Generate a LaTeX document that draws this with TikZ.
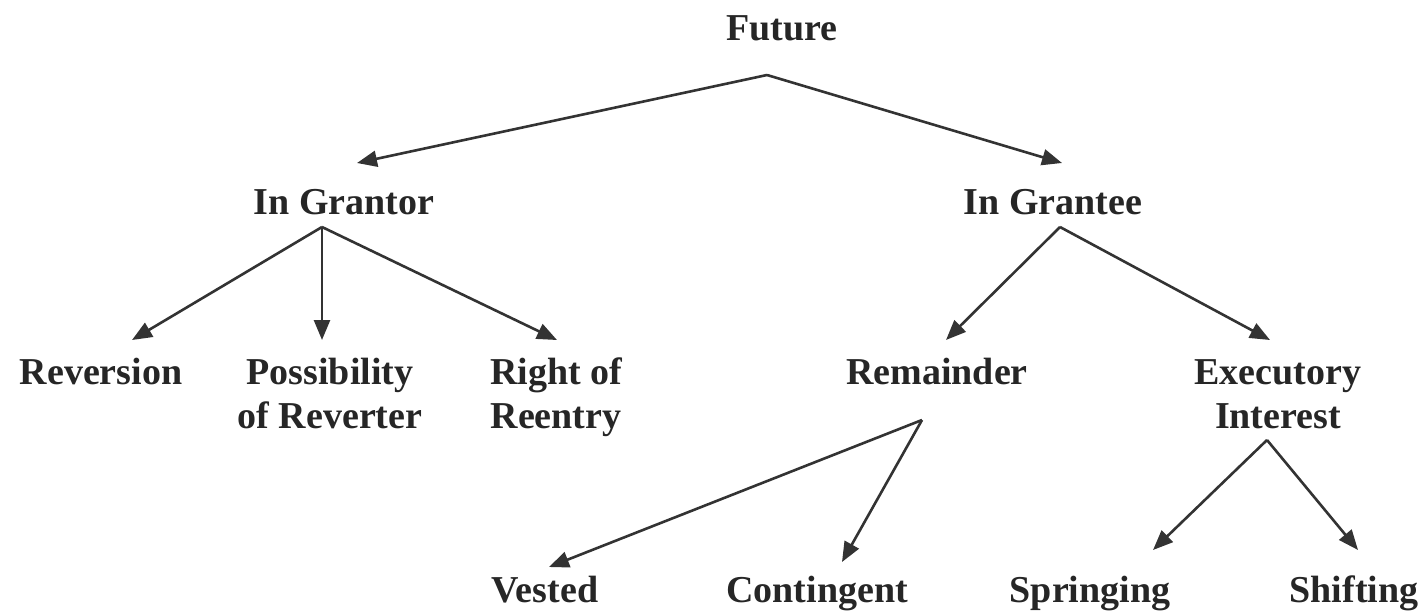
\documentclass[tikz,border=0pt]{standalone}
\usepackage{fontspec}
\setmainfont{Liberation Serif}
\usetikzlibrary{arrows.meta,calc}
\begin{document}
\begin{tikzpicture}[x=1pt,y=-1pt,
  lbl/.style={anchor=base,inner sep=0pt,font=\fontsize{38}{44}\selectfont\bfseries,text=black!85},
  arr/.style={line width=2.6pt,draw=black!80,-{Triangle[length=20pt,width=16pt]}}]
\useasboundingbox (0,0) rectangle (1424,611);
\node[lbl] (fut) at (782,40) {Future};
\node[lbl] (gr) at (344,214) {In Grantor};
\node[lbl] (ge) at (1053,214) {In Grantee};
\node[lbl] (rev) at (101,384) {Reversion};
\node[lbl] (pos) at (330,384) {\begin{tabular}[t]{@{}c@{}}Possibility\\of Reverter\end{tabular}};
\node[lbl] (roe) at (556,384) {\begin{tabular}[t]{@{}c@{}}Right of\\Reentry\end{tabular}};
\node[lbl] (rem) at (937,384) {Remainder};
\node[lbl] (exe) at (1278,384) {\begin{tabular}[t]{@{}c@{}}Executory\\Interest\end{tabular}};
\node[lbl] (ves) at (545,602) {Vested};
\node[lbl] (con) at (817,602) {Contingent};
\node[lbl] (spr) at (1090,602) {Springing};
\node[lbl] (shi) at (1354,602) {Shifting};
\draw[arr] ($(fut.base)+(-15,35)$) -- ($(gr.base)+(13,-51)$);
\draw[arr] ($(fut.base)+(-15,35)$) -- ($(ge.base)+(9,-51)$);
\draw[arr] ($(gr.base)+(-22,13)$) -- ($(rev.base)+(31,-44)$);
\draw[arr] ($(gr.base)+(-22,13)$) -- ($(pos.base)+(-8,-44)$);
\draw[arr] ($(gr.base)+(-22,13)$) -- ($(roe.base)+(1,-44)$);
\draw[arr] ($(ge.base)+(7,13)$) -- ($(rem.base)+(9,-44)$);
\draw[arr] ($(ge.base)+(7,13)$) -- ($(exe.base)+(-8,-44)$);
\draw[arr] ($(rem.base)+(-15,36)$) -- ($(ves.base)+(4,-35)$);
\draw[arr] ($(rem.base)+(-15,36)$) -- ($(con.base)+(25,-40)$);
\draw[arr] ($(exe.base)+(-11,56)$) -- ($(spr.base)+(63,-52)$);
\draw[arr] ($(exe.base)+(-11,56)$) -- ($(shi.base)+(4,-52)$);
\end{tikzpicture}
\end{document}
